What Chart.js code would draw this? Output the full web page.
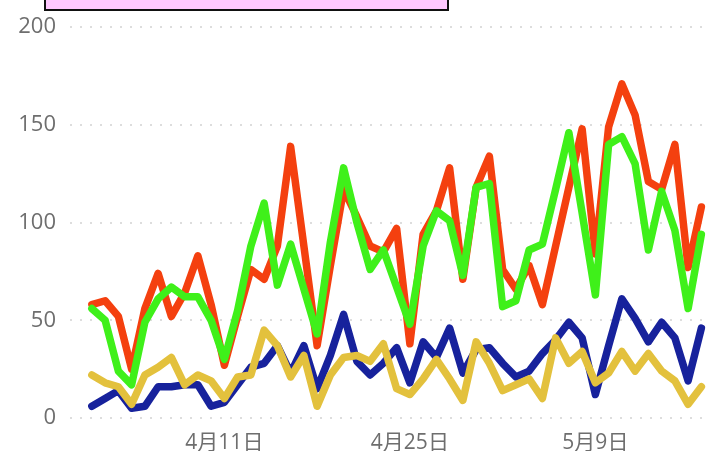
<!DOCTYPE html>
<html>
<head>
<meta charset="utf-8">
<script src="https://cdn.jsdelivr.net/npm/chart.js@4/dist/chart.umd.min.js"></script>
<style>
  html, body { margin: 0; padding: 0; background: #fff; }
  #wrap { width: 708px; height: 451px; }
</style>
</head>
<body>
<div id="wrap"><canvas id="chart"></canvas></div>
<script>
// days from 4月1日 to 5月17日
const dates = [];
for (let d = 1; d <= 30; d++) dates.push('4月' + d + '日');
for (let d = 1; d <= 17; d++) dates.push('5月' + d + '日');

const tickLabels = ['4月11日', '4月25日', '5月9日'];
const yTicks = [0, 50, 100, 150, 200];

const redValues = [58, 60, 52, 25, 56, 74, 52, 64, 83, 58, 27, 52, 76, 71, 88, 139, 88, 37, 78, 117,
  103, 88, 85, 97, 38, 94, 106, 128, 71, 118, 134, 76, 66, 78, 58, 88, 118, 148, 84, 149,
  171, 155, 121, 117, 140, 77, 108];
const greenValues = [56, 50, 24, 17, 49, 61, 67, 62, 62, 50, 30, 55, 88, 110, 68, 89, 66, 43, 90, 128,
  100, 76, 86, 67, 48, 88, 106, 101, 73, 118, 120, 57, 60, 86, 89, 117, 146, 105, 63, 140,
  144, 130, 86, 116, 96, 56, 94];
const blueValues = [6, 10, 14, 5, 6, 16, 16, 17, 17, 6, 8, 17, 26, 28, 37, 23, 37, 15, 32, 53,
  29, 22, 28, 36, 18, 39, 31, 46, 23, 35, 36, 28, 21, 24, 33, 40, 49, 41, 12, 37,
  61, 51, 39, 49, 41, 19, 46];
const yellowValues = [22, 18, 16, 7, 22, 26, 31, 17, 22, 19, 10, 21, 22, 45, 37, 21, 32, 6, 22, 31,
  32, 29, 38, 15, 12, 20, 30, 20, 9, 39, 28, 14, 17, 20, 10, 41, 28, 34, 18, 23,
  34, 24, 33, 24, 19, 7, 16];

function pts(values) {
  return values.map((v, i) => ({ x: i, y: v }));
}

const FONT = '"Open Sans", "Noto Sans CJK JP", sans-serif';

// the pink box cut off at the top edge
const topBox = {
  id: 'topBox',
  afterDraw(chart) {
    const ctx = chart.ctx;
    ctx.save();
    ctx.fillStyle = '#ffc8ff';
    ctx.strokeStyle = '#111';
    ctx.lineWidth = 2;
    ctx.fillRect(45, -10, 403, 20);
    ctx.strokeRect(45, -10, 403, 20);
    ctx.restore();
  }
};

function line(values, color) {
  return {
    data: pts(values),
    borderColor: color,
    backgroundColor: color,
    borderWidth: 7.5,
    pointRadius: 0,
    tension: 0,
    borderJoinStyle: 'round',
    borderCapStyle: 'round',
    fill: false
  };
}

new Chart(document.getElementById('chart'), {
  type: 'line',
  data: {
    datasets: [
      line(yellowValues, '#e3c13d'),
      line(blueValues, '#17229c'),
      line(greenValues, '#3ff01a'),
      line(redValues, '#f4400f')
    ]
  },
  options: {
    responsive: true,
    maintainAspectRatio: false,
    animation: false,
    layout: { padding: { top: 20, right: 0, bottom: 0, left: 0 } },
    plugins: {
      legend: { display: false },
      tooltip: { enabled: false }
    },
    scales: {
      x: {
        type: 'linear',
        min: -1.65,
        max: 46.5,
        afterBuildTicks: axis => {
          axis.ticks = tickLabels.map(t => ({ value: dates.indexOf(t) }));
        },
        afterFit: axis => { axis.height = 33; },
        ticks: {
          autoSkip: false,
          maxRotation: 0,
          padding: 4,
          color: '#6e6e6e',
          font: { family: FONT, size: 21 },
          callback: v => dates[v]
        },
        grid: { display: false },
        border: { display: false }
      },
      y: {
        min: 0,
        max: 200,
        afterBuildTicks: axis => {
          axis.ticks = yTicks.map(v => ({ value: v }));
        },
        afterFit: axis => { axis.width = 70; },
        ticks: {
          padding: 14,
          color: '#6e6e6e',
          font: { family: FONT, size: 22 }
        },
        grid: {
          color: '#dddddd',
          lineWidth: 2,
          drawTicks: false
        },
        border: { display: false, dash: [2, 8] }
      }
    }
  },
  plugins: [topBox]
});
</script>
</body>
</html>
